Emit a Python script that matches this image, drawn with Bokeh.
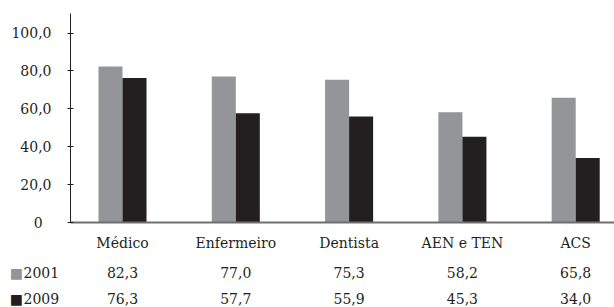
from bokeh.plotting import figure
from bokeh.models import ColumnDataSource, Range1d, FixedTicker, LabelSet
from bokeh.transform import dodge
from bokeh.core.properties import value
from bokeh.embed import file_html
from bokeh.resources import INLINE

categories = ["Médico", "Enfermeiro", "Dentista", "AEN e TEN", "ACS"]
years = ["2001", "2009"]
v2001 = [82.3, 77.0, 75.3, 58.2, 65.8]
v2009 = [76.3, 57.7, 55.9, 45.3, 34.0]
y_ticks = [0, 20, 40, 60, 80, 100]
y_tick_labels = ["0\u2007", "20,0", "40,0", "60,0", "80,0", "100,0"]

FONT = "DejaVu Serif"
FS = "14px"
TXT = "#231f20"
C2001 = "#939598"
C2009 = "#231f20"

X0, X1 = -1.0768, 4.3424      # visible x extent
Y0, Y1 = -44.85, 117.15       # visible y extent
AXIS_X = -0.459               # where the value axis stands
AXIS_TOP = 110.3
ROW_Y = [-29.3, -43.2]

def fmt(v):
    return f"{v:.1f}".replace(".", ",")

idx = list(range(len(categories)))
src = ColumnDataSource(dict(
    x=idx, cat=categories, v2001=v2001, v2009=v2009,
    t2001=[fmt(v) for v in v2001], t2009=[fmt(v) for v in v2009],
    y_cat=[-13.7] * len(idx), y_r1=[ROW_Y[0]] * len(idx), y_r2=[ROW_Y[1]] * len(idx),
))
hdr = ColumnDataSource(dict(
    year=years, y=ROW_Y, sq=["\u25a0", "\u25a0"], col=[C2001, C2009],
    xt=[-0.874, -0.874], xs=[-0.995, -0.995],
))

p = figure(width=614, height=307, output_backend="svg", toolbar_location=None,
           title=None, x_range=Range1d(X0, X1), y_range=Range1d(Y0, Y1),
           min_border=0)
p.outline_line_color = None
p.xgrid.visible = False
p.ygrid.visible = False
p.background_fill_color = "white"
p.border_fill_color = "white"

bw = 0.212
p.vbar(x=dodge("x", -bw / 2, range=p.x_range), top="v2001", width=bw, source=src,
       fill_color=C2001, line_color=None)
p.vbar(x=dodge("x", bw / 2, range=p.x_range), top="v2009", width=bw, source=src,
       fill_color=C2009, line_color=None)

# value axis, standing inside the plot area
ya = p.yaxis[0]
ya.fixed_location = AXIS_X
ya.bounds = (0, AXIS_TOP)
ya.ticker = FixedTicker(ticks=y_ticks)
ya.major_label_overrides = {t: l for t, l in zip(y_ticks, y_tick_labels)}
ya.major_tick_in = 3
ya.major_tick_out = 3
ya.minor_tick_line_color = None
ya.axis_line_color = TXT
ya.major_tick_line_color = TXT
ya.major_label_standoff = 16
ya.major_label_text_font = FONT
ya.major_label_text_font_size = FS
ya.major_label_text_color = TXT

# category axis: baseline only
xa = p.xaxis[0]
xa.fixed_location = 0
xa.bounds = (AXIS_X, X1)
xa.ticker = FixedTicker(ticks=[])
xa.axis_line_color = "#6d6e71"
xa.axis_line_width = 2
xa.major_tick_line_color = None
xa.minor_tick_line_color = None
xa.major_label_text_font_size = "0px"

common = dict(text_font=value(FONT), text_font_size=FS,
              text_color=TXT, text_align="center", text_baseline="alphabetic")
p.add_layout(LabelSet(x="x", y="y_cat", text="cat", source=src, **common))
p.add_layout(LabelSet(x="x", y="y_r1", text="t2001", source=src, **common))
p.add_layout(LabelSet(x="x", y="y_r2", text="t2009", source=src, **common))

# row headers with swatches
p.add_layout(LabelSet(x="xt", y="y", text="year", source=hdr, text_font=value(FONT),
                      text_font_size=FS, text_color=TXT, text_align="left",
                      text_baseline="alphabetic"))
p.add_layout(LabelSet(x="xs", y="y", text="sq", source=hdr, text_font=value("DejaVu Sans"),
                      text_font_size="14px", text_color="col", text_align="left",
                      text_baseline="alphabetic"))

open("out.html", "w").write(file_html(p, INLINE))
